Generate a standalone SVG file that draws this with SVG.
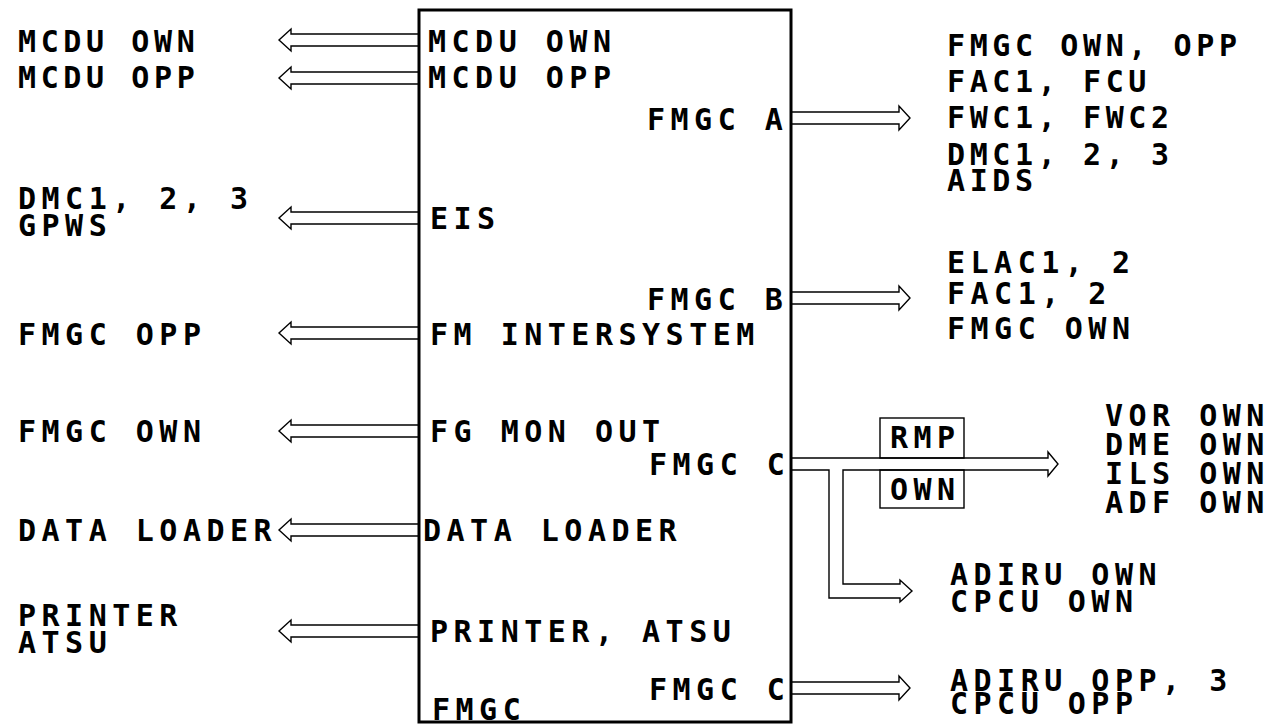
<svg xmlns="http://www.w3.org/2000/svg" width="1270" height="726" viewBox="0 0 1270 726">
<style>
text{font-family:"DejaVu Sans Mono","Liberation Mono",monospace;font-weight:bold;font-size:30px;letter-spacing:5.5px;fill:#000}
text.n{letter-spacing:4.6px}
.arr{fill:#fff;stroke:#000;stroke-width:1.4;stroke-linejoin:miter}
.box{fill:#fff;stroke:#000;stroke-width:3}
.tb{fill:none;stroke:#000;stroke-width:1.4}
</style>
<rect width="1270" height="726" fill="#fff"/>
<g id="connectors">
<path class="arr" d="M419,34 H291 V29 L279,40 L291,51 V46 H419"/>
<path class="arr" d="M419,72 H291 V67 L279,78 L291,89 V84 H419"/>
<path class="arr" d="M419,212 H291 V207 L279,218 L291,229 V224 H419"/>
<path class="arr" d="M419,327 H291 V322 L279,333 L291,344 V339 H419"/>
<path class="arr" d="M419,425 H291 V420 L279,431 L291,442 V437 H419"/>
<path class="arr" d="M419,524 H291 V519 L279,530 L291,541 V536 H419"/>
<path class="arr" d="M419,625 H291 V620 L279,631 L291,642 V637 H419"/>
<path class="arr" d="M791,112 H899 V106 L910,118 L899,130 V124 H791"/>
<path class="arr" d="M791,292 H899 V286 L910,298 L899,310 V304 H791"/>
<path class="arr" d="M791,682 H899 V676 L910,688 L899,700 V694 H791"/>
<path class="arr" d="M791,458 H1048 V452 L1058,464 L1048,476 V470 H843 V584 H900 V580 L912,591 L900,602 V598 H829 V470 H791"/>
</g>
<g id="fmgc">
<rect class="box" x="419" y="10" width="372" height="712" fill="none"/>
<text x="428" y="52">MCDU OWN</text>
<text x="428" y="88">MCDU OPP</text>
<text x="647" y="130">FMGC A</text>
<text x="430" y="229">EIS</text>
<text x="647" y="310">FMGC B</text>
<text x="430" y="345">FM INTERSYSTEM</text>
<text x="430" y="442">FG MON OUT</text>
<text x="649" y="475">FMGC C</text>
<text x="423" y="541">DATA LOADER</text>
<text x="430" y="642">PRINTER, ATSU</text>
<text x="649" y="700">FMGC C</text>
<text x="432" y="720">FMGC</text>
</g>
<g id="rmp-own">
<rect class="tb" x="880" y="418" width="84" height="40"/>
<rect class="tb" x="880" y="470" width="84" height="38"/>
<text x="890" y="448">RMP</text>
<text x="890" y="500">OWN</text>
</g>
<g id="left-labels">
<text class="n" x="18" y="52">MCDU OWN</text>
<text class="n" x="18" y="88">MCDU OPP</text>
<text x="18" y="209">DMC1, 2, 3</text>
<text x="18" y="236">GPWS</text>
<text x="18" y="345">FMGC OPP</text>
<text x="18" y="442">FMGC OWN</text>
<text x="18" y="541">DATA LOADER</text>
<text x="18" y="626">PRINTER</text>
<text x="18" y="653">ATSU</text>
</g>
<g id="right-labels">
<text class="n" x="947" y="56">FMGC OWN, OPP</text>
<text class="n" x="947" y="92">FAC1, FCU</text>
<text class="n" x="947" y="128">FWC1, FWC2</text>
<text class="n" x="947" y="165">DMC1, 2, 3</text>
<text class="n" x="947" y="191">AIDS</text>
<text x="947" y="273">ELAC1, 2</text>
<text x="947" y="304">FAC1, 2</text>
<text x="947" y="339">FMGC OWN</text>
<text x="1105" y="426">VOR OWN</text>
<text x="1105" y="455">DME OWN</text>
<text x="1105" y="484">ILS OWN</text>
<text x="1105" y="513">ADF OWN</text>
<text x="950" y="585">ADIRU OWN</text>
<text x="950" y="612">CPCU OWN</text>
<text x="950" y="691">ADIRU OPP, 3</text>
<text x="950" y="714">CPCU OPP</text>
</g>
</svg>
